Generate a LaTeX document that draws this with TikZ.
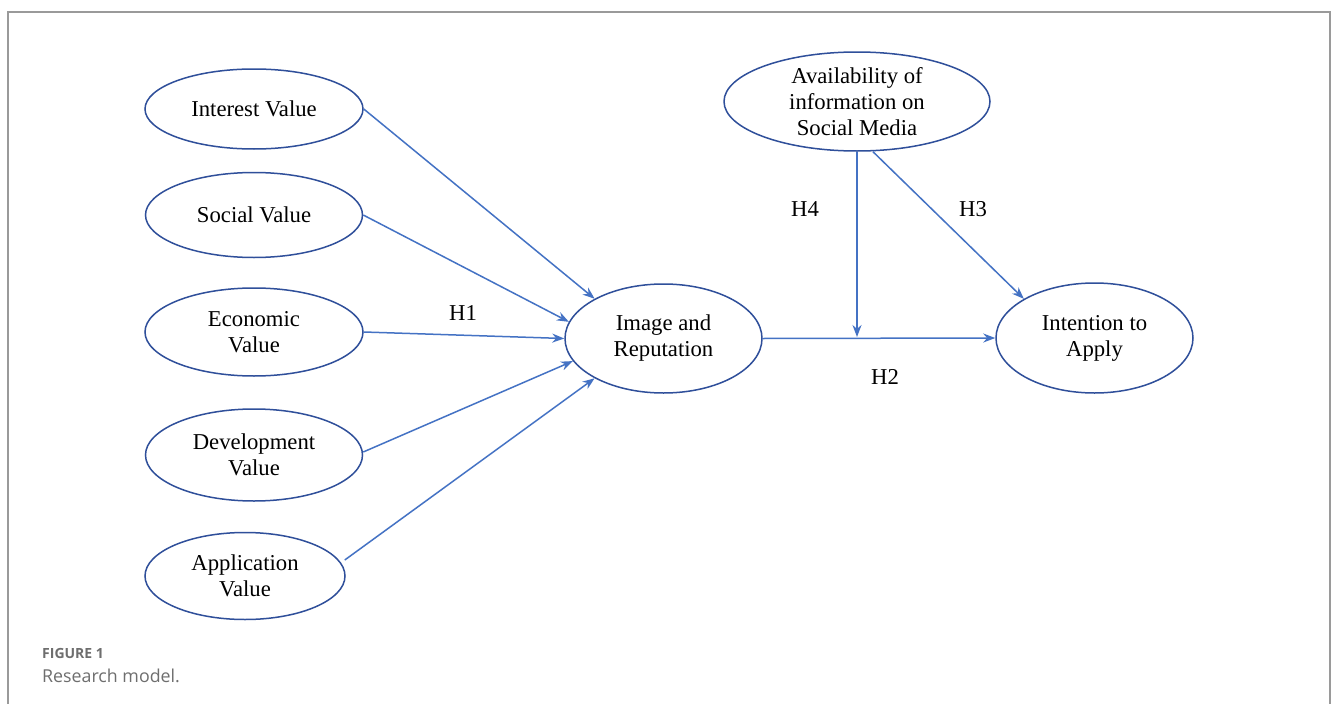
\documentclass[tikz,border=0pt]{standalone}
\usepackage{fontspec}
\setmainfont{Liberation Serif}
\newfontfamily\capfont{Open Sans}
\usetikzlibrary{shapes.geometric,arrows.meta}
\definecolor{ellblue}{HTML}{2F4F9A}
\definecolor{arrblue}{HTML}{4472C4}
\definecolor{framegray}{HTML}{9A9A9A}
\definecolor{capgray}{HTML}{6E6E6E}
\begin{document}
\begin{tikzpicture}[x=1pt,y=-1pt,
  construct/.style={draw=ellblue,line width=1.5pt,ellipse,inner sep=0pt,align=center,
    font=\fontsize{22.7}{26}\selectfont},
  link/.style={draw=arrblue,line width=1.5pt,-{Stealth[length=12pt,width=9pt]}},
  hlabel/.style={font=\fontsize{22.7}{26}\selectfont,inner sep=0pt}]
\useasboundingbox (0,0) rectangle (1331,704);
\fill[white] (0,0) rectangle (1331,704);
\draw[framegray,line width=1.2pt] (8,704) -- (8,12) -- (1330,12) -- (1330,704);

\node[construct,minimum width=218,minimum height=80] (int) at (254,109) {Interest Value};
\node[construct,minimum width=217,minimum height=85] (soc) at (254,215) {Social Value};
\node[construct,minimum width=218,minimum height=88] (eco) at (254,332) {Economic\\Value};
\node[construct,minimum width=217,minimum height=92] (dev) at (254,455) {Development\\Value};
\node[construct,minimum width=200,minimum height=87] (app) at (245,576) {Application\\Value};
\node[construct,minimum width=197,minimum height=109] (img) at (663.5,338.5) {Image and\\Reputation};
\node[construct,minimum width=197,minimum height=110] (ita) at (1094.5,338) {Intention to\\Apply};
\node[construct,minimum width=266,minimum height=99] (ava) at (857,101.5) {Availability of\\information on\\Social Media};

\draw[link] (int.east) -- (img.150);
\draw[link] (soc.east) -- (img.170);
\draw[link] (eco.east) -- (img.180);
\draw[link] ([yshift=3pt]dev.east) -- (img.194);
\draw[link] ([yshift=16pt,xshift=-1pt]app.east) -- (img.210);
\draw[link] (img.east) -- (ita.west);

\coordinate (mod) at (857,337);
\draw[link] (ava.south -| mod) -- (mod);
\draw[link] ([xshift=16pt]ava.south) -- (ita.151);

\node[hlabel] (h1) at (463,313) {H1};
\node[hlabel] (h2) at (885,377) {H2};
\node[hlabel] (h3) at (973,209) {H3};
\node[hlabel] (h4) at (805,209) {H4};

\node[anchor=base west,inner sep=0pt,text=capgray,font=\capfont\fontsize{14}{16}\selectfont\bfseries] (fig) at (42,658) {FIGURE 1};
\node[anchor=base west,inner sep=0pt,text=capgray,font=\capfont\fontsize{17.8}{20}\selectfont] (cap) at (42,682) {Research model.};
\end{tikzpicture}
\end{document}
